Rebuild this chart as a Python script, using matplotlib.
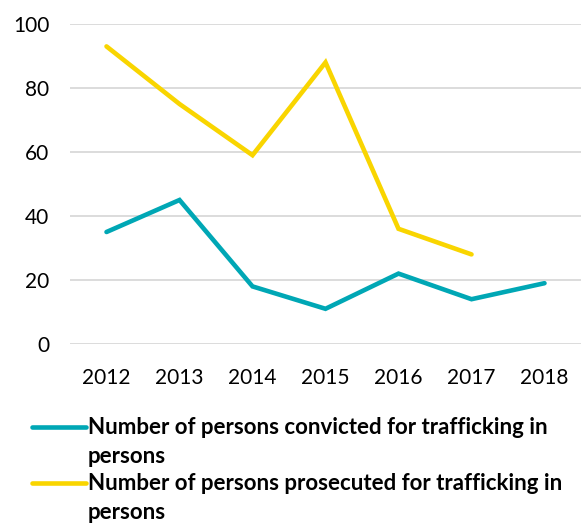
import matplotlib
matplotlib.use("Agg")
import matplotlib.pyplot as plt
from matplotlib.lines import Line2D

years = ["2012", "2013", "2014", "2015", "2016", "2017", "2018"]
convicted = [35, 45, 18, 11, 22, 14, 19]
prosecuted = [93, 75, 59, 88, 36, 28]
label_conv = "Number of persons convicted for trafficking in\npersons"
label_pros = "Number of persons prosecuted for trafficking in\npersons"
yticks = [0, 20, 40, 60, 80, 100]

plt.rcParams['font.family'] = ['Lato', 'DejaVu Sans']

teal = "#00A7B5"
yellow = "#F9D500"

fig = plt.figure(figsize=(5.82, 5.23), dpi=100)
ax = fig.add_axes([70/582, 1-344/523, 511/582, 320/523])

x = list(range(len(years)))
ax.plot(x, convicted, color=teal, lw=3.3, solid_capstyle='round', solid_joinstyle='miter')
ax.plot(x[:len(prosecuted)], prosecuted, color=yellow, lw=3.3, solid_capstyle='round', solid_joinstyle='miter')

ax.set_xlim(-0.5, len(years) - 0.5)
ax.set_ylim(0, 100)
ax.set_xticks(x)
ax.set_xticklabels(years)
ax.set_yticks(yticks)
for s in ax.spines.values():
    s.set_visible(False)
ax.yaxis.grid(True, color="#D9D9D9", lw=1.3)
ax.set_axisbelow(True)
ax.tick_params(axis='both', length=0, labelsize=15, colors='#000000')
ax.tick_params(axis='x', pad=17)
ax.tick_params(axis='y', pad=15)

# legend (manual, handle aligned with first text line)
entries = [(label_conv, teal, 427), (label_pros, yellow, 483)]
for lab, col, ypx in entries:
    yf = 1 - ypx / 523
    fig.add_artist(Line2D([32/582, 86/582], [yf, yf], color=col, lw=3.3,
                          solid_capstyle='round', transform=fig.transFigure))
    fig.text(88/582, 1 - (ypx - 10) / 523, lab, fontsize=16, fontweight='bold',
             va='top', ha='left', linespacing=1.45)

fig.savefig("out.png", dpi=100)
